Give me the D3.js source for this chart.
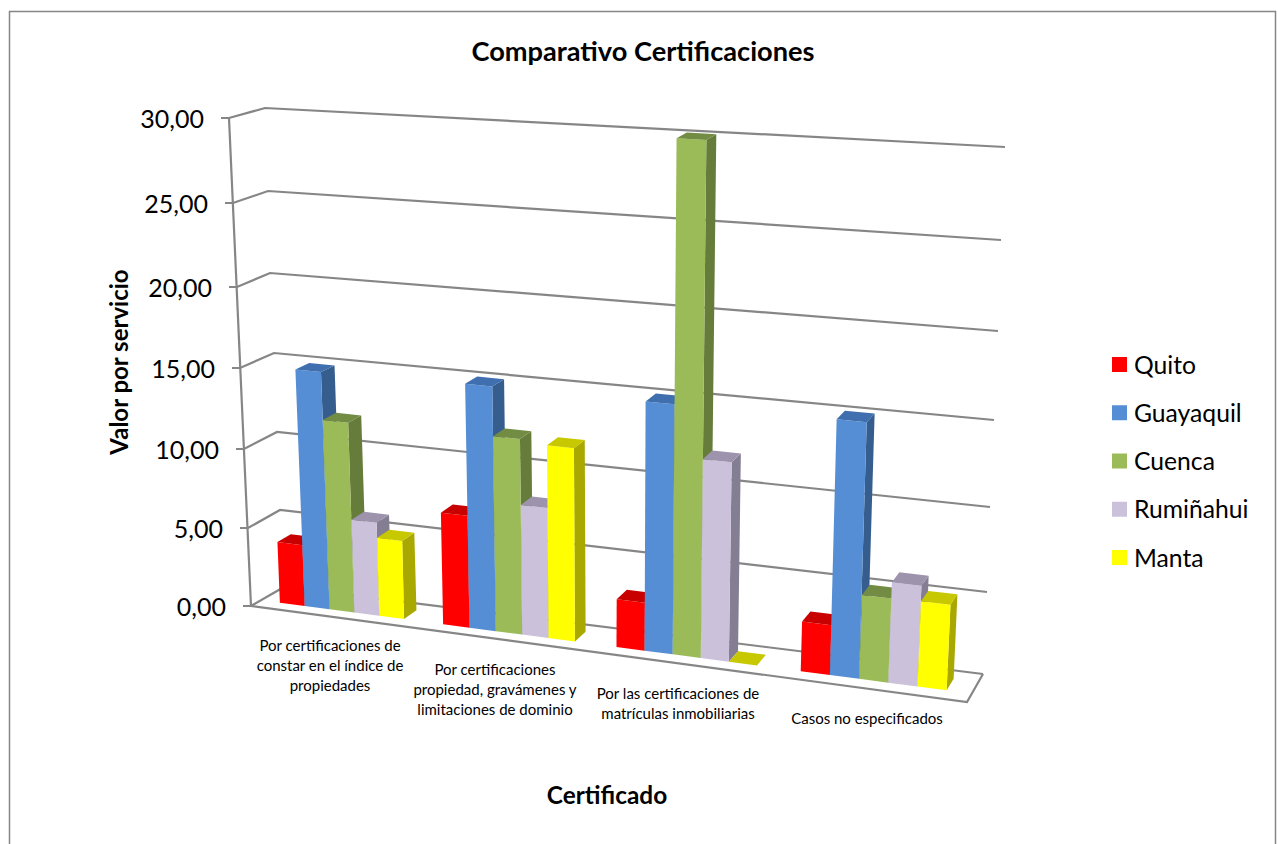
<!DOCTYPE html>
<html>
<head>
<meta charset="utf-8">
<title>Comparativo Certificaciones</title>
<script src="https://cdn.jsdelivr.net/npm/d3@7"></script>
<style>
  html, body { margin: 0; padding: 0; background: #fff; overflow: hidden; }
  text { font-family: Lato, "Open Sans", sans-serif; fill: #000; }
</style>
</head>
<body>
<svg id="chart" width="1278" height="844"></svg>
<script>
var categories = [
  ['Por certificaciones de', 'constar en el índice de', 'propiedades'],
  ['Por certificaciones', 'propiedad, gravámenes y', 'limitaciones de dominio'],
  ['Por las certificaciones de', 'matrículas inmobiliarias'],
  ['Casos no especificados']
];
var seriesNames = ['Quito', 'Guayaquil', 'Cuenca', 'Rumiñahui', 'Manta'];
var quito = [3.9, 7.0, 2.95, 3.0];
var guayaquil = [14.9, 15.05, 15.05, 15.1];
var cuenca = [11.95, 12.05, 30.1, 5.05];
var ruminahui = [5.9, 8.05, 12.0, 6.0];
var manta = [4.95, 11.85, 0, 5.1];
var seriesValues = [quito, guayaquil, cuenca, ruminahui, manta];
var yTicks = [0, 5, 10, 15, 20, 25, 30];

var faceColours = ['#ff0000', '#558ed5', '#9bbb59', '#ccc1da', '#ffff00'];
var topColours = ['#c80000', '#3f6fae', '#728c44', '#9e93ac', '#c8c800'];
var sideColours = ['#a80000', '#355d8e', '#667c3a', '#847e93', '#a8a800'];

var svg = d3.select('#chart');
var grey = '#868686';

// corners of the 3d box, one scale per corner and per screen axis
function corner(range) {
  return d3.scaleLinear().domain(yTicks).range(range);
}
var frontLeftX = corner([251, 248, 244, 240, 237, 233, 229]);
var frontLeftY = corner([606, 528, 449, 368, 287, 203, 118]);
var backLeftX = corner([284, 280, 277, 274, 270, 268, 265]);
var backLeftY = corner([587, 510, 432, 353, 273, 191, 108]);
var backRightX = corner([983, 987, 990, 994, 998, 1001, 1005]);
var backRightY = corner([674, 592, 507, 420, 331, 240, 147]);
var frontRightX = corner([967, 971, 974, 978, 982, 985, 989]);
var frontRightY = corner([702, 617, 531, 442, 351, 258, 163]);

// u along the categories (a bit of perspective), v into the depth
var uScale = d3.scaleLinear().domain([0, 1, 2, 3, 4]).range([0, 0.228, 0.47, 0.728, 0.996]);
var catScale = d3.scaleBand().domain(d3.range(categories.length)).range([0, 4])
  .paddingInner(0.234).paddingOuter(0.117);
var serScale = d3.scaleBand().domain(seriesNames).range([0, catScale.bandwidth()]);
var vFront = 0.3, vBack = 0.72;

function project(u, v, h) {
  var xf = frontLeftX(h) + (frontRightX(h) - frontLeftX(h)) * u;
  var yf = frontLeftY(h) + (frontRightY(h) - frontLeftY(h)) * u;
  var xb = backLeftX(h) + (backRightX(h) - backLeftX(h)) * u;
  var yb = backLeftY(h) + (backRightY(h) - backLeftY(h)) * u;
  return [xf + (xb - xf) * v, yf + (yb - yf) * v];
}

function poly(points, fill) {
  svg.append('polygon')
    .attr('points', points.map(function(p) { return p.join(','); }).join(' '))
    .attr('fill', fill);
}

// chart frame, bottom edge runs off the picture
svg.append('rect')
  .attr('x', 9.5).attr('y', 11.5)
  .attr('width', 1266).attr('height', 900)
  .attr('fill', '#fff').attr('stroke', grey).attr('stroke-width', 1.5);

svg.append('text')
  .attr('x', 643).attr('y', 61)
  .attr('text-anchor', 'middle')
  .style('font-size', '27.2px').style('font-weight', 'bold')
  .text('Comparativo Certificaciones');

// gridlines + ticks
yTicks.forEach(function(t) {
  var pts = [
    [frontLeftX(t) - 8, frontLeftY(t)],
    [frontLeftX(t), frontLeftY(t)],
    [backLeftX(t), backLeftY(t)],
    [backRightX(t), backRightY(t)]
  ];
  svg.append('polyline')
    .attr('points', pts.map(function(p) { return p.join(','); }).join(' '))
    .attr('fill', 'none').attr('stroke', grey).attr('stroke-width', 2.2);

  svg.append('text')
    .attr('x', frontLeftX(t) - 25).attr('y', frontLeftY(t))
    .attr('dy', '0.38em').attr('text-anchor', 'end')
    .style('font-size', '25px')
    .text(d3.format('.2f')(t).replace('.', ','));
});

// left axis line and floor outline
svg.append('line')
  .attr('x1', frontLeftX(30)).attr('y1', frontLeftY(30))
  .attr('x2', frontLeftX(0)).attr('y2', frontLeftY(0))
  .attr('stroke', grey).attr('stroke-width', 2.2);
svg.append('polyline')
  .attr('points', [
    [frontLeftX(0), frontLeftY(0)],
    [frontRightX(0), frontRightY(0)],
    [backRightX(0), backRightY(0)]
  ].map(function(p) { return p.join(','); }).join(' '))
  .attr('fill', 'none').attr('stroke', grey).attr('stroke-width', 2.2);

// bars, left to right so the next front face hides the previous side
categories.forEach(function(c, ci) {
  seriesNames.forEach(function(name, si) {
    var value = seriesValues[si][ci];
    var a = catScale(ci) + serScale(name);
    var u0 = uScale(a), u1 = uScale(a + serScale.bandwidth());

    poly([project(u1, vFront, 0), project(u1, vBack, 0), project(u1, vBack, value), project(u1, vFront, value)], sideColours[si]);
    poly([project(u0, vFront, 0), project(u1, vFront, 0), project(u1, vFront, value), project(u0, vFront, value)], faceColours[si]);
    poly([project(u0, vFront, value), project(u1, vFront, value), project(u1, vBack, value), project(u0, vBack, value)], topColours[si]);
  });
});

// category labels
var labelX = [330, 495, 678, 867];
var labelY = [646, 670, 694, 719];
categories.forEach(function(lines, ci) {
  lines.forEach(function(line, li) {
    svg.append('text')
      .attr('x', labelX[ci]).attr('y', labelY[ci] + li * 19.7)
      .attr('dy', '0.35em').attr('text-anchor', 'middle')
      .style('font-size', '15px')
      .text(line);
  });
});

svg.append('text')
  .attr('transform', 'translate(120,362) rotate(-90)')
  .attr('dy', '0.35em').attr('text-anchor', 'middle')
  .style('font-size', '24px').style('font-weight', 'bold')
  .text('Valor por servicio');

svg.append('text')
  .attr('x', 607).attr('y', 795)
  .attr('dy', '0.35em').attr('text-anchor', 'middle')
  .style('font-size', '24.4px').style('font-weight', 'bold')
  .text('Certificado');

// legend
var legendY = d3.scalePoint().domain(seriesNames).range([365, 558]);
seriesNames.forEach(function(name, si) {
  svg.append('rect')
    .attr('x', 1112).attr('y', legendY(name) - 8)
    .attr('width', 15).attr('height', 15)
    .attr('fill', faceColours[si]);
  svg.append('text')
    .attr('x', 1134).attr('y', legendY(name))
    .attr('dy', '0.35em')
    .style('font-size', '24.7px')
    .text(name);
});
</script>
</body>
</html>
